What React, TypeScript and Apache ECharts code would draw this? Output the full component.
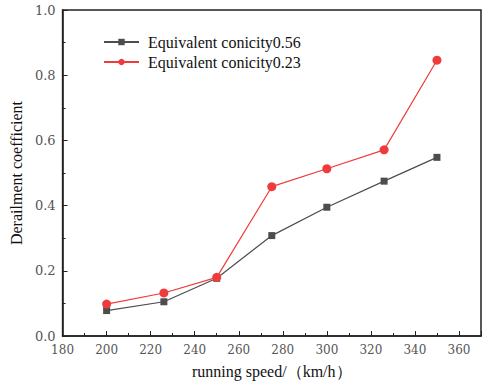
import React, { useEffect, useRef } from "react";
import * as echarts from "echarts";

const speeds = [200, 226, 250, 275, 300, 326, 350];
const conicity056 = [0.078, 0.105, 0.177, 0.308, 0.395, 0.475, 0.548];
const conicity023 = [0.098, 0.132, 0.18, 0.458, 0.513, 0.571, 0.846];
const seriesNames = ["Equivalent conicity0.56", "Equivalent conicity0.23"];

export default function App() {
  const ref = useRef<HTMLDivElement>(null);
  useEffect(() => {
    if (!ref.current) return;
    const chart = echarts.init(ref.current, null, { renderer: "svg" });
    const serif = "Times New Roman";
    const tickFont = "DejaVu Serif";
    chart.setOption({
      animation: false,
      backgroundColor: "#ffffff",
      grid: {
        left: 62,
        top: 10,
        right: -2,
        bottom: 49,
        show: true,
        borderColor: "#222",
        borderWidth: 1.5,
        backgroundColor: "transparent",
      },
      legend: {
        orient: "vertical",
        left: 103,
        top: 34,
        padding: 0,
        itemWidth: 35,
        itemHeight: 8,
        itemGap: 4,
        textStyle: { fontFamily: serif, fontSize: 16, color: "#111", padding: [0, 0, 0, 4] },
        data: seriesNames,
      },
      xAxis: {
        type: "value",
        min: 180,
        max: 370,
        interval: 20,
        name: "running speed/（km/h）",
        nameLocation: "middle",
        nameGap: 27,
        nameTextStyle: { fontFamily: serif, fontSize: 16, color: "#111" },
        axisLine: { show: true, lineStyle: { color: "#222", width: 1.5 } },
        axisTick: { show: true, inside: true, length: 5, lineStyle: { color: "#222" } },
        minorTick: { show: true, splitNumber: 2, length: 3, lineStyle: { color: "#222" } },
        axisLabel: {
          fontFamily: tickFont,
          fontSize: 12,
          color: "#555",
          margin: 8,
          formatter: (v: number) => (v > 365 ? "" : String(v)),
        },
        splitLine: { show: false },
      },
      yAxis: {
        type: "value",
        min: 0,
        max: 1,
        interval: 0.2,
        name: "Derailment coefficient",
        nameLocation: "middle",
        nameGap: 36,
        nameTextStyle: { fontFamily: serif, fontSize: 16, color: "#111" },
        axisLine: { show: true, lineStyle: { color: "#222", width: 1.5 } },
        axisTick: { show: true, inside: true, length: 5, lineStyle: { color: "#222" } },
        minorTick: { show: true, splitNumber: 2, length: 3, lineStyle: { color: "#222" } },
        axisLabel: {
          fontFamily: tickFont,
          fontSize: 13,
          color: "#555",
          margin: 7,
          formatter: (v: number) => v.toFixed(1),
        },
        splitLine: { show: false },
      },
      series: [
        {
          name: seriesNames[0],
          type: "line",
          data: speeds.map((s, i) => [s, conicity056[i]]),
          symbol: "rect",
          symbolSize: 7,
          itemStyle: { color: "#4d4d4d" },
          lineStyle: { color: "#4d4d4d", width: 1.2 },
        },
        {
          name: seriesNames[1],
          type: "line",
          data: speeds.map((s, i) => [s, conicity023[i]]),
          symbol: "circle",
          symbolSize: 9,
          itemStyle: { color: "#ef3b3b" },
          lineStyle: { color: "#ef3b3b", width: 1.2 },
        },
      ],
    });
    return () => chart.dispose();
  }, []);
  return <div ref={ref} style={{ width: 484, height: 385, position: "absolute", left: 0, top: 0 }} />;
}
